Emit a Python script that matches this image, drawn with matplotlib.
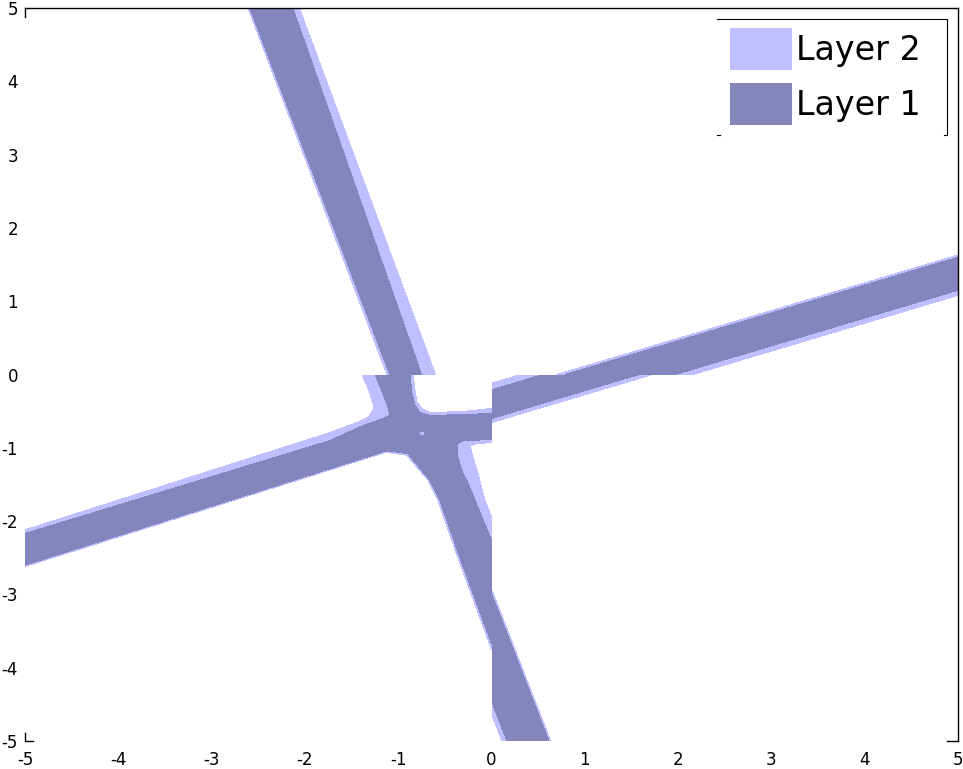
import matplotlib.pyplot as plt
from matplotlib.patches import Polygon, Rectangle, Patch

plt.rcParams['font.family'] = ['DejaVu Sans']
plt.rcParams['axes.unicode_minus'] = False

light = '#bfbfff'
dark = '#8585be'

# region outlines, one set per quadrant
# upper left (x<0, y>0): steep band
ul_light = [(-2.61, 5), (-2.06, 5), (-0.60, 0), (-1.12, 0)]
ul_dark = [(-2.59, 5), (-2.13, 5), (-0.75, 0), (-1.09, 0)]

# upper right (x>0, y>0): shallow band
ur_light = [(0.70, 0), (5, 1.63), (5, 1.08), (2.16, 0)]
ur_dark = [(0.79, 0), (5, 1.60), (5, 1.15), (1.97, 0)]

# lower right (x>0, y<0): shallow band + steep band
lr_sh_light = [(0, -0.12), (2.5, 0.83), (2.5, 0.294), (0, -0.656)]
lr_sh_dark = [(0, -0.21), (2.5, 0.74), (2.5, 0.349), (0, -0.601)]
lr_st_light = [(0.113, -5), (0.635, -5), (-0.283, -2), (-0.805, -2)]
lr_st_dark = [(0.166, -5), (0.616, -5), (-0.302, -2), (-0.752, -2)]

# lower left (x<0, y<0): the crossing
ll_light = [(-5, -2.12), (-1.731, -0.792), (-1.442, -0.656), (-1.324, -0.587),
            (-1.270, -0.492), (-1.270, -0.396), (-1.313, -0.219), (-1.388, 0.0),
            (-0.841, 0.0), (-0.820, -0.219), (-0.799, -0.383), (-0.745, -0.464),
            (-0.659, -0.519), (-0.306, -0.505), (0.0, -0.464),
            (0.0, -0.929), (-0.155, -0.943), (-0.230, -0.970), (-0.198, -1.134),
            (-0.145, -1.352), (-0.070, -1.721), (0.0, -1.94),
            (0.0, -3.75), (-0.36, -2.5), (-0.575, -1.72), (-0.68, -1.44),
            (-0.91, -1.10), (-1.13, -1.06), (-5, -2.62)]
ll_dark = [(-5, -2.17), (-1.731, -0.902), (-1.377, -0.697), (-1.163, -0.601),
           (-1.088, -0.560), (-1.109, -0.451), (-1.163, -0.260), (-1.249, 0.0),
           (-0.874, 0.0), (-0.852, -0.260), (-0.820, -0.424), (-0.766, -0.519),
           (-0.659, -0.560), (-0.306, -0.546), (0.0, -0.533),
           (0.0, -0.888), (-0.306, -0.902), (-0.370, -0.943), (-0.359, -1.134),
           (-0.306, -1.352), (-0.263, -1.45), (0.0, -2.26),
           (0.0, -3.67), (-0.338, -2.5), (-0.552, -1.721), (-0.659, -1.448),
           (-0.895, -1.08), (-1.12, -1.04), (-5, -2.60)]
ll_dot = [(-0.765, -0.78), (-0.725, -0.78), (-0.725, -0.83), (-0.765, -0.83)]

quadrants = {
    'ul': (-5, 0, [ul_light], [ul_dark]),
    'ur': (0, 0, [ur_light], [ur_dark]),
    'lr': (0, -5, [lr_sh_light, lr_st_light], [lr_sh_dark, lr_st_dark]),
    'll': (-5, -5, [ll_light], [ll_dark]),
}

fig = plt.figure(figsize=(9.63, 7.69), dpi=100)
ax = fig.add_axes([25 / 963, 28 / 769, 933 / 963, 733 / 769])
ax.set_xlim(-5, 5)
ax.set_ylim(-5, 5)

for name, (x0, y0, lights, darks) in quadrants.items():
    clip = Rectangle((x0, y0), 5, 5, transform=ax.transData)
    for pts in lights:
        p = ax.add_patch(Polygon(pts, closed=True, fc=light, ec='none', antialiased=False))
        p.set_clip_path(clip)
    for pts in darks:
        p = ax.add_patch(Polygon(pts, closed=True, fc=dark, ec='none', antialiased=False))
        p.set_clip_path(clip)
ax.add_patch(Polygon(ll_dot, closed=True, fc=light, ec='none', antialiased=False))

# frame: top and right lines, little corner marks elsewhere
for s in ['left', 'bottom']:
    ax.spines[s].set_visible(False)
for s in ['top', 'right']:
    ax.spines[s].set_linewidth(1.0)
ax.plot([0, 0], [1, 1 - 9 / 733], color='black', lw=1.0, transform=ax.transAxes, clip_on=False)
ax.plot([0, 0, 8 / 933], [8 / 733, 0, 0], color='black', lw=1.0, transform=ax.transAxes, clip_on=False)
ax.plot([1 - 11 / 933, 1], [0, 0], color='black', lw=1.0, transform=ax.transAxes, clip_on=False)

ticks = [-5, -4, -3, -2, -1, 0, 1, 2, 3, 4, 5]
ax.set_xticks(ticks)
ax.set_yticks(ticks)
ax.set_xticklabels([str(t) for t in ticks])
ax.set_yticklabels([str(t) for t in ticks])
ax.tick_params(length=0, labelsize=12)
ax.tick_params(axis='x', pad=7)
ax.tick_params(axis='y', pad=5)

# legend
handles = [Patch(fc=light, ec='none', label='Layer 2'), Patch(fc=dark, ec='none', label='Layer 1')]
leg = ax.legend(handles=handles, loc='upper left', bbox_to_anchor=((730 - 25) / 933, (741 - 28) / 733),
                frameon=False, fontsize=24, handlelength=1.86, handleheight=1.563,
                handletextpad=0.12, labelspacing=0.39, borderpad=0, borderaxespad=0)
lx0, lx1 = (717 - 25) / 933, (947 - 25) / 933
ly0, ly1 = (741 - 135) / 733, (741 - 19) / 733
ax.plot([lx0, lx1, lx1], [ly1, ly1, ly0], color='black', lw=0.8, transform=ax.transAxes, clip_on=False)
ax.plot([lx0, lx0 + 3 / 933], [ly0, ly0], color='black', lw=0.8, transform=ax.transAxes, clip_on=False)
ax.plot([lx1 - 3 / 933, lx1], [ly0, ly0], color='black', lw=0.8, transform=ax.transAxes, clip_on=False)

fig.savefig('out.png', dpi=100)
